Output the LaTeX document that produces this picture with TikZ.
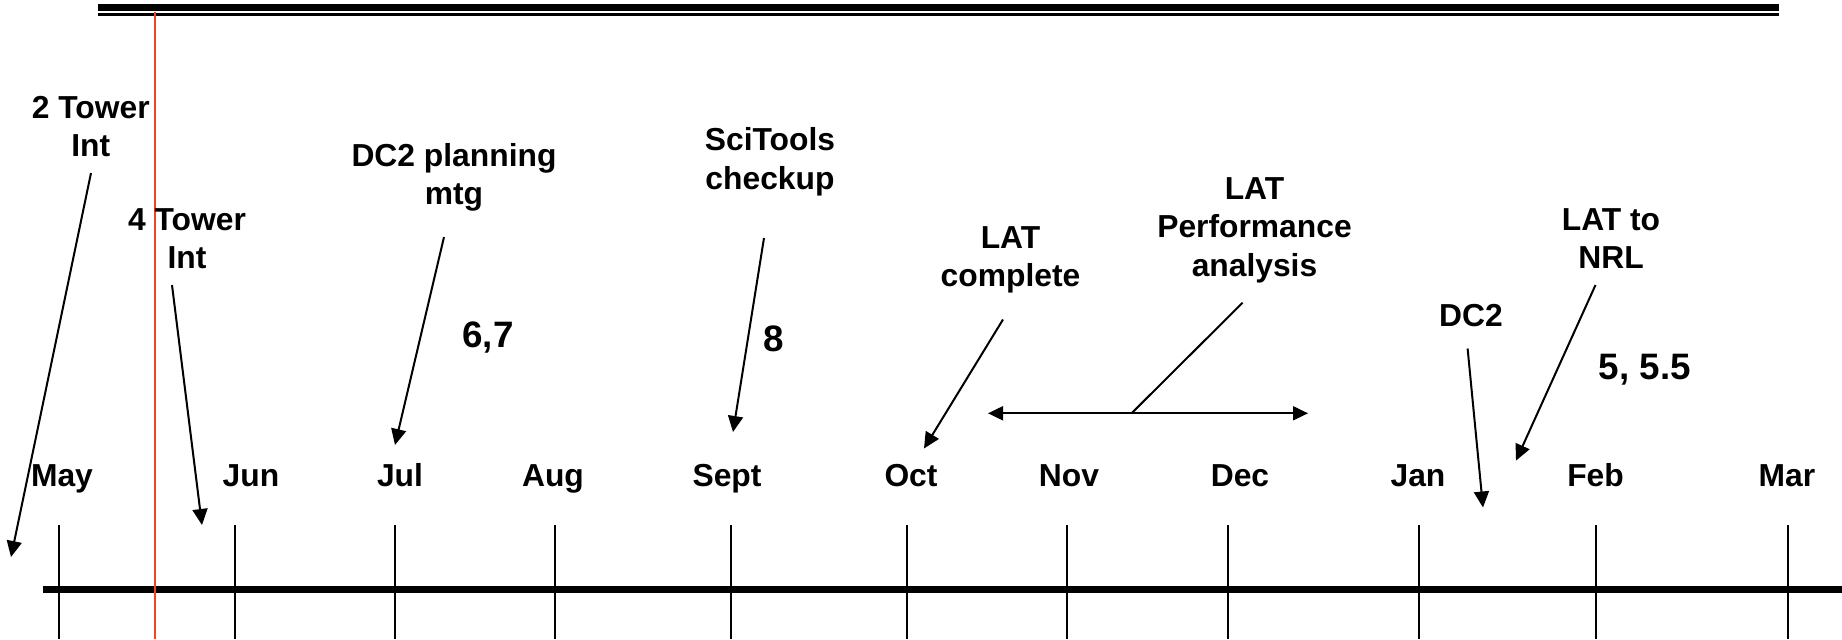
\documentclass[tikz,border=0pt]{standalone}
\usepackage{fontspec}
\setmainfont{Liberation Sans}
\usetikzlibrary{arrows.meta}
\definecolor{redline}{RGB}{240,70,30}
\newcommand{\lbl}[1]{{\setlength{\tabcolsep}{0pt}\renewcommand{\arraystretch}{1}\begin{tabular}[t]{c}#1\end{tabular}}}
\begin{document}
\begin{tikzpicture}[x=0.5pt,y=-0.5pt,
  txt/.style={inner sep=0pt,anchor=base,font=\bfseries\fontsize{15.9}{19.35}\selectfont},
  num/.style={inner sep=0pt,anchor=base,font=\bfseries\fontsize{18.4}{22}\selectfont},
  mon/.style={inner sep=0pt,anchor=base,font=\bfseries\fontsize{15.9}{19.35}\selectfont},
  arr/.style={line width=1pt,-{Triangle[length=8pt,width=7.5pt]}},
  tick/.style={line width=1pt},
]
\useasboundingbox (0,0) rectangle (1842,639);
% top double rule
\coordinate (tl1) at (98,7.8);  \coordinate (tr1) at (1779,7.8);
\coordinate (tl2) at (98,14.7); \coordinate (tr2) at (1779,14.7);
\draw[line width=3.5pt] (tl1) -- (tr1);
\draw[line width=1.35pt] (tl2) -- (tr2);
% main axis
\coordinate (axL) at (43,589.5); \coordinate (axR) at (1842,589.5);
\draw[line width=3.75pt] (axL) -- (axR);
% ticks
\foreach \n/\x in {may/59.3,jun/235.4,jul/395.3,aug/555.3,sep/731,oct/907,nov/1067.4,dec/1227.5,jan/1419,feb/1595.5,mar/1787.7}{
  \coordinate (t\n a) at (\x,525);
  \coordinate (t\n b) at (\x,639);
  \draw[tick] (t\n a) -- (t\n b);
}
% red line
\coordinate (rt) at (155,12); \coordinate (rb) at (155,639);
\draw[redline,line width=1pt] (rt) -- (rb);
% month labels
\node[mon] (mMay) at (62,486.5) {May};
\node[mon] (mJun) at (251,486.5) {Jun};
\node[mon] (mJul) at (400,486.5) {Jul};
\node[mon] (mAug) at (553,486.5) {Aug};
\node[mon] (mSep) at (727,486.5) {Sept};
\node[mon] (mOct) at (911,486.5) {Oct};
\node[mon] (mNov) at (1069,486.5) {Nov};
\node[mon] (mDec) at (1240,486.5) {Dec};
\node[mon] (mJan) at (1418,486.5) {Jan};
\node[mon] (mFeb) at (1595.5,486.5) {Feb};
\node[mon] (mMar) at (1787,486.5) {Mar};
% event labels
\node[txt] (e2t) at (90.8,118) {\lbl{2 Tower\\Int}};
\node[txt] (e4t) at (187,230) {\lbl{4 Tower\\Int}};
\node[txt] (edc) at (454,166) {\lbl{DC2 planning\\mtg}};
\node[txt] (esci) at (770,150.5) {\lbl{SciTools\\checkup}};
\node[txt] (ecomp) at (1010.5,248) {\lbl{LAT\\complete}};
\node[txt] (eperf) at (1254.5,199) {\lbl{LAT\\Performance\\analysis}};
\node[txt] (edc2) at (1471,326) {DC2};
\node[txt] (enrl) at (1611,230) {\lbl{LAT to\\NRL}};
\node[num] (n67) at (488,347) {6,7};
\node[num] (n8) at (774,351) {8};
\node[num] (n55) at (1645,379) {5, 5.5};
% arrows
\coordinate (a1s) at (91,173);     \coordinate (a1e) at (11,557);
\coordinate (a2s) at (172,285);    \coordinate (a2e) at (202,525);
\coordinate (a3s) at (444,237);    \coordinate (a3e) at (395,445);
\coordinate (a4s) at (764,238);    \coordinate (a4e) at (733,432);
\coordinate (a5s) at (1003,319.5); \coordinate (a5e) at (924,448.5);
\coordinate (a6s) at (1467.6,348.5); \coordinate (a6e) at (1483,507.5);
\coordinate (a7s) at (1595.5,285); \coordinate (a7e) at (1516,460.6);
\coordinate (ps) at (1242.6,302.7); \coordinate (pj) at (1131.5,413.3);
\coordinate (pL) at (988,413.3);   \coordinate (pR) at (1308,413.3);
\draw[arr] (a1s) -- (a1e);
\draw[arr] (a2s) -- (a2e);
\draw[arr] (a3s) -- (a3e);
\draw[arr] (a4s) -- (a4e);
\draw[arr] (a5s) -- (a5e);
\draw[arr] (a6s) -- (a6e);
\draw[arr] (a7s) -- (a7e);
\draw[line width=1pt] (ps) -- (pj);
\draw[line width=1pt,{Triangle[length=7.5pt,width=7pt]}-{Triangle[length=7.5pt,width=7pt]}] (pL) -- (pR);
\end{tikzpicture}
\end{document}
